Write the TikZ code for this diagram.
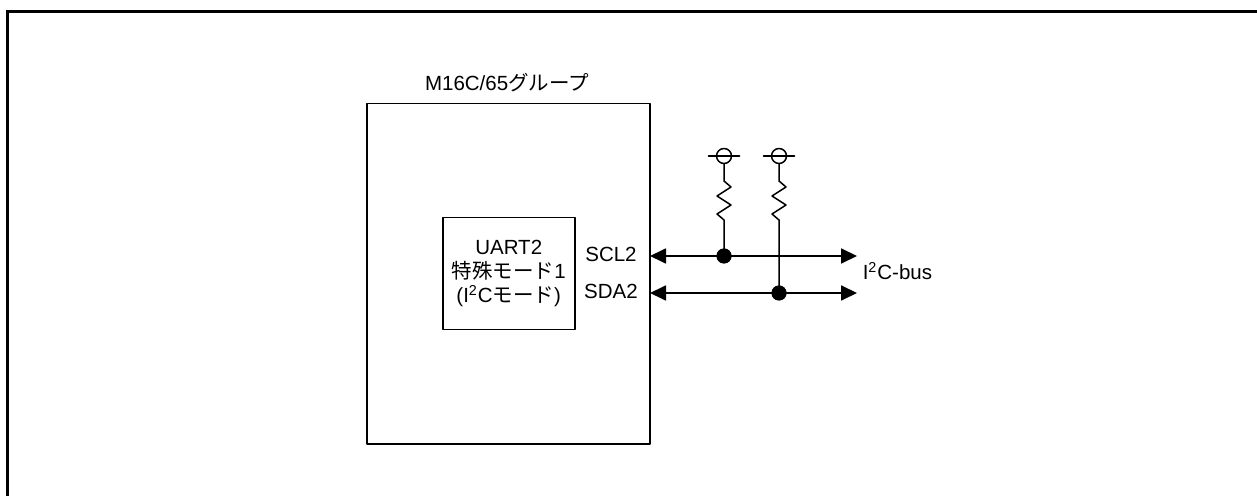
\documentclass[tikz,border=0pt]{standalone}
\usepackage{fontspec}
\setmainfont{Liberation Sans}
\newfontfamily\jp{Noto Sans CJK JP}
\usetikzlibrary{arrows.meta}
\usetikzlibrary{positioning}
\tikzstyle{every node}=[font=\fontsize{10.25pt}{12pt}\selectfont,inner sep=0pt]
\tikzstyle{every path}=[line width=0.75pt,line cap=round,line join=round]
\tikzstyle{blk}=[draw,anchor=north west]
\tikzstyle{bus}=[line width=0.9pt,{Triangle[length=8pt,width=7.5pt]}-{Triangle[length=8pt,width=7.5pt]}]
\tikzstyle{dot}=[circle,fill,minimum size=7.5pt]
\tikzstyle{term}=[circle,draw,minimum size=7.5pt]

\begin{document}
\begin{tikzpicture}[x=0.5pt,y=-0.5pt]
  \useasboundingbox (0,0) rectangle (1257,496);
  % frame
  \draw[line width=1.5pt,line cap=butt,line join=miter] (7,496)--(7,12)--(1257,12);

  % MCU and UART block
  \node (mcu) [blk,minimum width=141.5pt,minimum height=170pt] at (366,103) {};
  \node (title) [anchor=base] at (507,91) {M16C/65{\jp グループ}};
  \node (uart) [blk,minimum width=66pt,minimum height=56pt] at (442,217) {};
  \node (uarttxt) [align=center] at (uart.center) {UART2\\{\jp 特殊モード}1\\(I\textsuperscript{2}C{\jp モード})};
  \node (scl2) [anchor=base] at (611,262) {SCL2};
  \node (sda2) [anchor=base] at (611,299) {SDA2};
  \node (i2c) [anchor=base west] at (862,280) {I\textsuperscript{2}C-bus};

  % bus lines
  \coordinate (sclL) at (650,256);
  \coordinate (sclR) at (857,256);
  \coordinate (sdaL) at (650,293);
  \coordinate (sdaR) at (857,293);
  \draw[bus] (sclL)--(sclR);
  \draw[bus] (sdaL)--(sdaR);

  % pull-up resistors
  \foreach \x/\y/\n in {724/256/1,779/293/2}{
    \node (vcc\n) [term] at (\x,156) {};
    \node (dot\n) [dot] at (\x,\y) {};
    \draw (\x-15.5,156)--(\x+15.5,156);
    \draw (vcc\n.south)--(\x,181)--++(7,6)--++(-14,9)--++(14,9)--++(-14,9)--++(7,6)--(dot\n.center);
    \node [dot] at (dot\n) {};
  }
\end{tikzpicture}
\end{document}
